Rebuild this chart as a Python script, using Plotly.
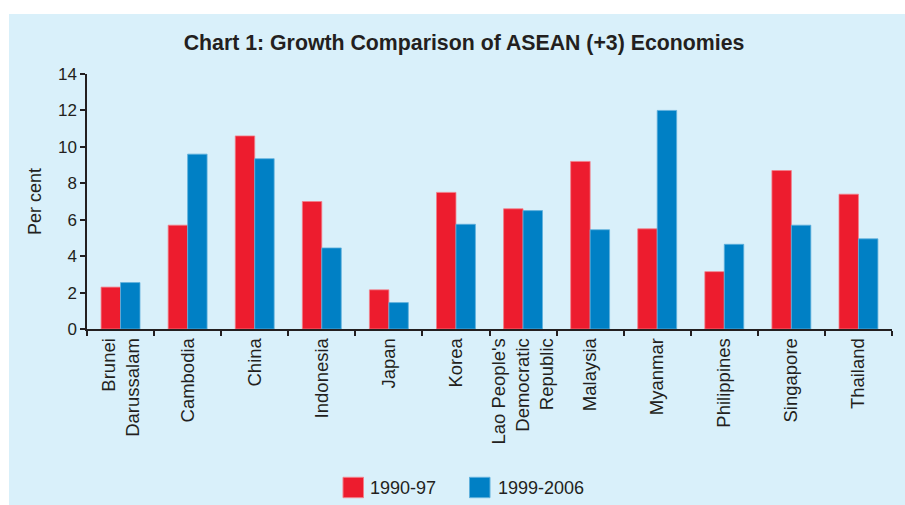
import plotly.graph_objects as go

# Average real GDP growth, per cent
countries = [
    "Brunei<br>Darussalam", "Cambodia", "China", "Indonesia", "Japan", "Korea",
    "Lao People's<br>Democratic<br>Republic", "Malaysia", "Myanmar",
    "Philippines", "Singapore", "Thailand",
]
growth_1990_97 = [2.3, 5.7, 10.6, 7.0, 2.15, 7.5, 6.6, 9.2, 5.5, 3.15, 8.7, 7.4]
growth_1999_2006 = [2.55, 9.6, 9.35, 4.45, 1.45, 5.75, 6.5, 5.45, 12.0, 4.65, 5.7, 4.95]
series_names = ["1990-97", "1999-2006"]
y_ticks = [0, 2, 4, 6, 8, 10, 12, 14]

RED = "#ed1c2e"
BLUE = "#0080c5"
PANEL = "#d9f0fa"
INK = "#231f20"
FONT = "Liberation Sans, Arial, Helvetica, sans-serif"

W, H = 905, 505
ML, MR, MT, MB = 87, 13, 74, 176
PW, PH = W - ML - MR, H - MT - MB


def px_x(px):
    return (px - ML) / PW


def px_y(py):
    return (H - MB - py) / PH


fig = go.Figure()
fig.add_trace(go.Bar(
    x=countries, y=growth_1990_97, name=series_names[0],
    marker=dict(color=RED, line=dict(color="#f37f89", width=0.8)),
    showlegend=False,
))
fig.add_trace(go.Bar(
    x=countries, y=growth_1999_2006, name=series_names[1],
    marker=dict(color=BLUE, line=dict(color="#5fb0dc", width=0.8)),
    showlegend=False,
))

shapes = [
    # light blue panel behind everything
    dict(type="rect", xref="paper", yref="paper", layer="below",
         x0=px_x(9), x1=px_x(W + 5), y0=px_y(H + 5), y1=px_y(14),
         fillcolor=PANEL, line=dict(width=0)),
]
annotations = []

# legend: coloured squares with labels
legend_items = [(series_names[0], RED, "#f37f89", 343, 368),
                (series_names[1], BLUE, "#5fb0dc", 469.5, 495.5)]
for name, fill, edge, sq_x, tx in legend_items:
    shapes.append(dict(type="rect", xref="paper", yref="paper",
                       x0=px_x(sq_x), x1=px_x(sq_x + 20.5),
                       y0=px_y(497.7), y1=px_y(477.3),
                       fillcolor=fill, line=dict(color=edge, width=1)))
    annotations.append(dict(xref="paper", yref="paper", x=px_x(tx), y=px_y(488),
                            xanchor="left", yanchor="middle", showarrow=False,
                            text=name, font=dict(family=FONT, size=18, color=INK)))

fig.update_layout(
    width=W, height=H,
    margin=dict(l=ML, r=MR, t=MT, b=MB),
    paper_bgcolor="white",
    plot_bgcolor="rgba(0,0,0,0)",
    barmode="group", bargap=0.42, bargroupgap=0,
    font=dict(family=FONT, color=INK),
    title=dict(text="<b>Chart 1: Growth Comparison of ASEAN (+3) Economies</b>",
               x=464 / W, xref="container", xanchor="center",
               y=1 - 43 / H, yref="container", yanchor="middle",
               font=dict(family=FONT, size=21.3, color=INK)),
    shapes=shapes,
    annotations=annotations,
)

fig.update_xaxes(
    type="category", tickangle=-90, tickson="boundaries",
    ticks="outside", ticklen=5, tickwidth=1.5, tickcolor=INK,
    showline=True, linecolor=INK, linewidth=1.5,
    showgrid=False, zeroline=False,
    tickfont=dict(family=FONT, size=18.5, color=INK),
)
fig.update_yaxes(
    range=[0, 14], tickvals=y_ticks,
    ticks="outside", ticklen=5, tickwidth=1.5, tickcolor=INK,
    showline=True, linecolor=INK, linewidth=1.5,
    showgrid=False, zeroline=False,
    tickfont=dict(family=FONT, size=17, color=INK),
    title=dict(text="Per cent", font=dict(family=FONT, size=18, color=INK), standoff=12),
)

fig.write_html("out.html")
